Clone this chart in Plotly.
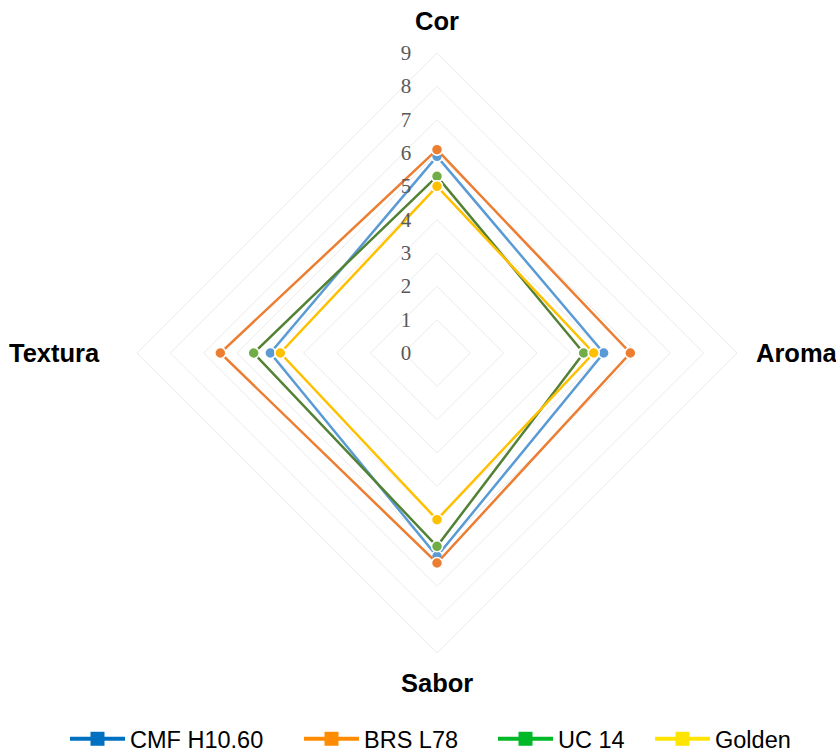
import plotly.graph_objects as go

categories = ["Cor", "Aroma", "Sabor", "Textura"]
series_names = ["CMF H10.60", "BRS L78", "UC 14", "Golden"]
cmf = [5.9, 5.0, 6.1, 5.0]
brs = [6.1, 5.8, 6.3, 6.5]
uc14 = [5.3, 4.4, 5.8, 5.5]
golden = [5.0, 4.7, 5.0, 4.7]
radial_ticks = [0, 1, 2, 3, 4, 5, 6, 7, 8, 9]

line_colors = ["#5B9BD5", "#ED7D31", "#548235", "#FFC000"]
marker_colors = ["#5B9BD5", "#ED7D31", "#70AD47", "#FFC000"]
legend_colors = ["#0070C0", "#FF8C00", "#00B828", "#FFE400"]
legend_ids = ["legend", "legend2", "legend3", "legend4"]
legend_left_px = [65, 299, 493, 650]

W, H = 836, 752

fig = go.Figure()
for name, vals, lc, mc in zip(series_names, [cmf, brs, uc14, golden], line_colors, marker_colors):
    fig.add_trace(go.Scatterpolar(
        r=vals + vals[:1], theta=categories + categories[:1],
        mode="lines+markers", name=name, showlegend=False,
        line=dict(color=lc, width=2.5),
        marker=dict(color=mc, size=11, line=dict(color="white", width=1.5)),
    ))
for name, lc, lid in zip(series_names, legend_colors, legend_ids):
    fig.add_trace(go.Scatterpolar(
        r=[None], theta=[categories[0]], mode="lines+markers", name=name,
        legend=lid, showlegend=True,
        line=dict(color=lc, width=4),
        marker=dict(color=lc, symbol="square", size=14),
    ))

# category labels around the chart
label_pos = {
    "Cor": dict(x=437 / W, y=1 - 21 / H, xanchor="center"),
    "Aroma": dict(x=754 / W, y=1 - 353 / H, xanchor="left"),
    "Sabor": dict(x=437 / W, y=1 - 683 / H, xanchor="center"),
    "Textura": dict(x=102 / W, y=1 - 353 / H, xanchor="right"),
}
annotations = [
    dict(text=f"<b>{c}</b>", xref="paper", yref="paper", yanchor="middle", showarrow=False,
         font=dict(family="Liberation Sans, Arial", size=25.5, color="black"), **label_pos[c])
    for c in categories
]

legend_style = dict(orientation="h", yanchor="middle", y=(H - 739) / H, xanchor="left",
                    font=dict(family="Liberation Sans, Arial", size=23.5, color="black"),
                    itemwidth=55, bgcolor="rgba(0,0,0,0)")
legends = {lid: dict(legend_style, x=px / W) for lid, px in zip(legend_ids, legend_left_px)}

fig.update_layout(
    width=W, height=H,
    margin=dict(l=0, r=0, t=0, b=0, autoexpand=False),
    paper_bgcolor="white",
    showlegend=True,
    annotations=annotations,
    polar=dict(
        domain=dict(x=[137 / W, 737 / W], y=[1 - 653 / H, 1 - 53 / H]),
        gridshape="linear",
        bgcolor="white",
        angularaxis=dict(
            direction="clockwise", rotation=90,
            showgrid=False, showline=True, linecolor="#EBEBEB", linewidth=1,
            showticklabels=False, ticks="",
        ),
        radialaxis=dict(
            range=[0, 9], tickvals=radial_ticks, ticktext=[str(t) for t in radial_ticks],
            angle=90, tickangle=90, side="counterclockwise",
            showline=False, gridcolor="#EBEBEB", gridwidth=1,
            ticks="outside", ticklen=18, tickcolor="rgba(0,0,0,0)",
            tickfont=dict(family="Liberation Serif, Times New Roman", size=21, color="#595959"),
        ),
    ),
    **legends,
)

fig.write_html("out.html", config={"displayModeBar": False},
               post_script="document.body.style.margin='0';")
